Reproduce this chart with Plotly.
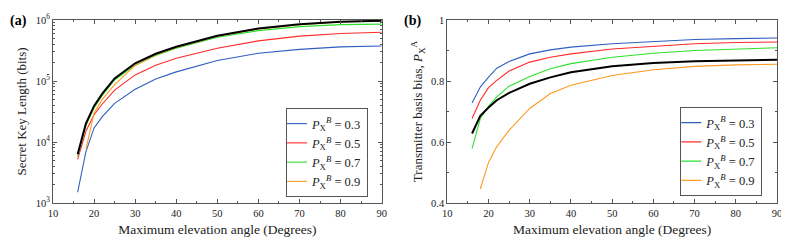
import plotly.graph_objects as go

# ---------------- data ----------------
angles = [16, 18, 20, 22, 25, 30, 35, 40, 50, 60, 70, 80, 90]
angles_o = [18, 20, 22, 25, 30, 35, 40, 50, 60, 70, 80, 90]

# panel (a): secret key length (bits)
skl_opt = [6300, 20000, 39000, 62000, 110000, 195000, 280000, 365000, 550000, 725000, 850000, 935000, 975000]
skl_03 = [1500, 6900, 17000, 26000, 43000, 73000, 108000, 141000, 217000, 285000, 330000, 362000, 375000]
skl_05 = [5200, 15000, 28000, 42000, 71000, 126000, 182000, 236000, 345000, 455000, 545000, 600000, 630000]
skl_07 = [5800, 18500, 36000, 58000, 104000, 182000, 262000, 345000, 520000, 670000, 780000, 840000, 855000]
skl_09 = [7500, 30000, 50000, 87000, 180000, 270000, 355000, 540000, 710000, 840000, 925000, 965000]

# panel (b): transmitter basis bias
pa_opt = [0.628, 0.686, 0.713, 0.737, 0.761, 0.791, 0.812, 0.829, 0.848, 0.859, 0.865, 0.868, 0.870]
pa_03 = [0.728, 0.780, 0.813, 0.842, 0.864, 0.889, 0.902, 0.911, 0.922, 0.930, 0.936, 0.939, 0.941]
pa_05 = [0.677, 0.737, 0.778, 0.802, 0.833, 0.862, 0.878, 0.889, 0.905, 0.914, 0.922, 0.926, 0.928]
pa_07 = [0.578, 0.677, 0.717, 0.748, 0.783, 0.815, 0.840, 0.857, 0.878, 0.891, 0.900, 0.905, 0.909]
pa_09 = [0.446, 0.533, 0.585, 0.639, 0.710, 0.759, 0.786, 0.818, 0.837, 0.848, 0.853, 0.855]

legend_labels = ["0.3", "0.5", "0.7", "0.9"]
colors = ["#2e5fc0", "#ff2a2a", "#2ee02e", "#ff9a24"]

FONT = "Liberation Serif"
TXT = "#222222"
AX = "#555555"

# the page body has an 8px margin, so the figure is drawn 8px smaller and
# reference pixel positions are shifted by 8px
OFF = 8
W, H = 789 - OFF, 243 - OFF
ML, MR, MT, MB = 53.3 - OFF, W - (776.7 - OFF), 20 - OFF, H - (203 - OFF)
PW, PH = W - ML - MR, H - MT - MB


def px(p):
    return (p - OFF - ML) / PW


def py(p):
    return (H - MB - (p - OFF)) / PH


fig = go.Figure()


def lab(v):
    return "<i>P</i><sub>X</sub><sup><i>B</i></sup> = " + v


series_a = [(angles, skl_03), (angles, skl_05), (angles, skl_07), (angles_o, skl_09)]
series_b = [(angles, pa_03), (angles, pa_05), (angles, pa_07), (angles_o, pa_09)]

for (x, y), c, l in zip(series_a, colors, legend_labels):
    fig.add_trace(go.Scatter(x=x, y=y, mode="lines", line=dict(color=c, width=1.1),
                             name=lab(l), xaxis="x", yaxis="y", legend="legend"))
fig.add_trace(go.Scatter(x=angles, y=skl_opt, mode="lines", line=dict(color="black", width=2),
                         showlegend=False, xaxis="x", yaxis="y"))

for (x, y), c, l in zip(series_b, colors, legend_labels):
    fig.add_trace(go.Scatter(x=x, y=y, mode="lines", line=dict(color=c, width=1.1),
                             name=lab(l), xaxis="x2", yaxis="y2", legend="legend2"))
fig.add_trace(go.Scatter(x=angles, y=pa_opt, mode="lines", line=dict(color="black", width=2),
                         showlegend=False, xaxis="x2", yaxis="y2"))

common_ax = dict(showline=True, linecolor=AX, linewidth=1, mirror="ticks", ticks="inside",
                 ticklen=4, tickcolor=AX, showgrid=False, zeroline=False, automargin=False,
                 tickfont=dict(family=FONT, size=10.5, color=TXT))

xcommon = dict(common_ax, range=[10, 90], tickvals=[10, 20, 30, 40, 50, 60, 70, 80, 90],
               ticklabelstandoff=0,
               minor=dict(dtick=5, tick0=0, ticks="inside", ticklen=2, tickcolor=AX, showgrid=False),
               title=dict(text="Maximum elevation angle (Degrees)", font=dict(family=FONT, size=13.5, color=TXT),
                          standoff=6))

legend_common = dict(xanchor="right", yanchor="bottom", bgcolor="white", bordercolor=AX, borderwidth=1,
                     font=dict(family=FONT, size=12.5, color=TXT), tracegroupgap=0,
                     itemwidth=30, traceorder="normal", indentation=-15)

fig.update_layout(
    width=W, height=H,
    margin=dict(l=ML, r=MR, t=MT, b=MB, autoexpand=False),
    paper_bgcolor="white", plot_bgcolor="white",
    font=dict(family=FONT, color=TXT),
    xaxis=dict(xcommon, domain=[px(53.3), px(381.7)], anchor="y"),
    yaxis=dict(common_ax, domain=[0, 1], anchor="x", type="log", range=[3, 6],
               tickvals=[1e3, 1e4, 1e5, 1e6],
               ticktext=["10<sup>3</sup>", "10<sup>4</sup>", "10<sup>5</sup>", "10<sup>6</sup>"],
               minor=dict(ticks="inside", ticklen=2, tickcolor=AX, dtick="D1", showgrid=False),
               title=dict(text="Secret Key Length (bits)", font=dict(family=FONT, size=13, color=TXT), standoff=6)),
    xaxis2=dict(xcommon, domain=[px(447.3), px(776.7)], anchor="y2"),
    yaxis2=dict(common_ax, domain=[0, 1], anchor="x2", range=[0.4, 1],
                tickvals=[0.4, 0.6, 0.8, 1], ticktext=["0.4", "0.6", "0.8", "1"],
                minor=dict(dtick=0.1, tick0=0, ticks="inside", ticklen=2, tickcolor=AX, showgrid=False),
                title=dict(text="Transmitter basis bias, <i>P</i><sub>X</sub><sup>A</sup>",
                           font=dict(family=FONT, size=13, color=TXT), standoff=5)),
    legend=dict(legend_common, x=px(368), y=py(197)),
    legend2=dict(legend_common, x=px(762), y=py(196)),
    annotations=[
        dict(text="<b>(a)</b>", x=px(8), y=py(11), xref="paper", yref="paper",
             xanchor="left", yanchor="top", showarrow=False, font=dict(family=FONT, size=14, color="black")),
        dict(text="<b>(b)</b>", x=px(402), y=py(11), xref="paper", yref="paper",
             xanchor="left", yanchor="top", showarrow=False, font=dict(family=FONT, size=14, color="black")),
    ],
)

fig.write_html("out.html")
